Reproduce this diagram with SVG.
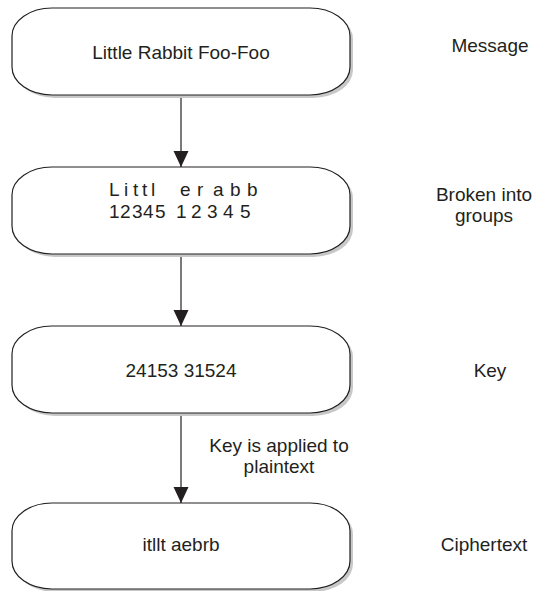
<svg xmlns="http://www.w3.org/2000/svg" width="544" height="591" viewBox="0 0 544 591">
  <style>
    .shadow { fill: #c8c8c8; stroke: none; }
    .box { fill: #ffffff; stroke: #231f20; stroke-width: 1.2; }
    .t { font-family: "Liberation Sans", Arial, sans-serif; font-size: 19px; fill: #231f20; }
    .c { text-anchor: middle; }
    .conn { stroke: #231f20; stroke-width: 1.2; fill: none; marker-end: url(#arrow); }
  </style>
  <defs>
    <marker id="arrow" markerUnits="userSpaceOnUse" markerWidth="16" markerHeight="16" refX="16" refY="7.5" orient="auto">
      <path d="M0,0 L16,7.5 L0,15 z" fill="#231f20"/>
    </marker>
  </defs>
  <rect width="544" height="591" fill="#ffffff"/>

  <g id="connectors">
    <line class="conn" x1="181" y1="95" x2="181" y2="167"/>
    <line class="conn" x1="181" y1="254" x2="181" y2="326"/>
    <line class="conn" x1="181" y1="413" x2="181" y2="503"/>
    <g id="label-key-applied">
      <text class="t c" x="279" y="452">Key is applied to</text>
      <text class="t c" x="279" y="473">plaintext</text>
    </g>
  </g>

  <g id="node-message">
    <rect class="shadow" x="15" y="11" width="338" height="87" rx="40" ry="28"/>
    <rect class="box" x="12" y="8" width="338" height="87" rx="40" ry="28"/>
    <text class="t c" x="181" y="59">Little Rabbit Foo-Foo</text>
  </g>

  <g id="node-groups">
    <rect class="shadow" x="15" y="170" width="338" height="87" rx="40" ry="28"/>
    <rect class="box" x="12" y="167" width="338" height="87" rx="40" ry="28"/>
    <text class="t" y="196"><tspan x="109 124 133 142 151">Littl</tspan><tspan x="180 197 213 230 247">erabb</tspan></text>
    <text class="t" y="218"><tspan x="109 120 132 143 155">12345</tspan><tspan x="176 191 207 223 240">12345</tspan></text>
  </g>

  <g id="node-key">
    <rect class="shadow" x="15" y="329" width="338" height="87" rx="40" ry="28"/>
    <rect class="box" x="12" y="326" width="338" height="87" rx="40" ry="28"/>
    <text class="t c" x="181" y="377">24153 31524</text>
  </g>

  <g id="node-ciphertext">
    <rect class="shadow" x="15" y="506" width="338" height="86" rx="40" ry="28"/>
    <rect class="box" x="12" y="503" width="338" height="86" rx="40" ry="28"/>
    <text class="t c" x="181" y="551">itllt aebrb</text>
  </g>

  <g id="labels">
    <text class="t c" x="490" y="52">Message</text>
    <text class="t c" x="484" y="201">Broken into</text>
    <text class="t c" x="484" y="222">groups</text>
    <text class="t c" x="490" y="377">Key</text>
    <text class="t c" x="484" y="551">Ciphertext</text>
  </g>
</svg>
